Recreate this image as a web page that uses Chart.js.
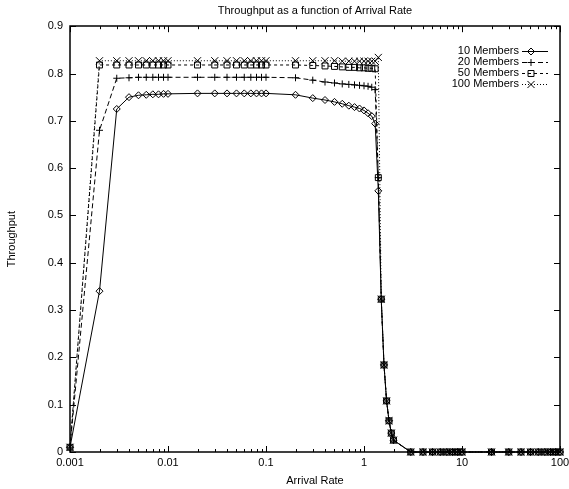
<!DOCTYPE html>
<html>
<head>
<meta charset="utf-8">
<title>Throughput as a function of Arrival Rate</title>
<script src="https://cdn.jsdelivr.net/npm/chart.js@4/dist/chart.umd.min.js"></script>
<style>
	html, body { margin:0; padding:0; background:#fff; }
	#chart { display:block; }
</style>
</head>
<body>
<canvas id="chart" width="569" height="489"></canvas>
<script>
// arrival rates sampled (same for every series)
const arrivalRate = [
	0.001, 0.002, 0.003, 0.004, 0.005, 0.006, 0.007, 0.008, 0.009,
	0.01, 0.02, 0.03, 0.04, 0.05, 0.06, 0.07, 0.08, 0.09,
	0.1, 0.2, 0.3, 0.4, 0.5, 0.6, 0.7, 0.8, 0.9,
	1.0, 1.1, 1.2, 1.3, 1.4, 1.5, 1.6, 1.7, 1.8, 1.9,
	2, 3, 4, 5, 6, 7, 8, 9,
	10, 20, 30, 40, 50, 60, 70, 80, 90,
	100
]

// tail after saturation, shared by all group sizes (1.5 .. 100)
const tail = [0.323, 0.184, 0.108, 0.066, 0.040, 0.025, 0, 0, 0, 0, 0, 0, 0, 0, 0, 0, 0, 0, 0, 0, 0, 0, 0]

const members10 = [
	0.01, 0.34, 0.725, 0.750, 0.754, 0.755, 0.756, 0.756, 0.757,
	0.757, 0.758, 0.758, 0.758, 0.758, 0.758, 0.758, 0.758, 0.758,
	0.758, 0.755, 0.748, 0.744, 0.740, 0.736, 0.732, 0.729, 0.726,
	0.722, 0.716, 0.710, 0.694, 0.552
].concat(tail)

const members20 = [
	0.01, 0.68, 0.790, 0.791, 0.792, 0.792, 0.792, 0.792, 0.792,
	0.792, 0.792, 0.792, 0.792, 0.792, 0.792, 0.792, 0.792, 0.792,
	0.792, 0.791, 0.786, 0.782, 0.780, 0.778, 0.777, 0.776, 0.775,
	0.774, 0.773, 0.771, 0.766, 0.580
].concat(tail)

const members50 = [
	0.01, 0.818, 0.818, 0.818, 0.818, 0.818, 0.818, 0.818, 0.818,
	0.818, 0.818, 0.818, 0.818, 0.818, 0.818, 0.818, 0.818, 0.818,
	0.818, 0.818, 0.817, 0.816, 0.815, 0.814, 0.813, 0.813, 0.812,
	0.812, 0.811, 0.811, 0.810, 0.580
].concat(tail)

const members100 = [
	0.01, 0.827, 0.827, 0.827, 0.827, 0.827, 0.827, 0.827, 0.827,
	0.827, 0.827, 0.827, 0.827, 0.827, 0.827, 0.827, 0.827, 0.827,
	0.827, 0.827, 0.827, 0.827, 0.827, 0.826, 0.826, 0.826, 0.826,
	0.826, 0.826, 0.826, 0.826, 0.834
].concat(tail)

const seriesLabels = ['10 Members', '20 Members', '50 Members', '100 Members']
const seriesValues = [members10, members20, members50, members100]

const xTickValues = [0.001, 0.01, 0.1, 1, 10, 100]
const yTickValues = [0, 0.1, 0.2, 0.3, 0.4, 0.5, 0.6, 0.7, 0.8, 0.9]

const FONT = '"Liberation Sans", Arial, Helvetica, sans-serif'

const styles = [
	{ dash:[], point:'rectRot', r:3.5 },
	{ dash:[5, 3], point:'cross', r:3.5 },
	{ dash:[3, 3], point:'rect', r:4.2 },
	{ dash:[1, 2], point:'crossRot', r:5 }
]


// gnuplot-like key: text right aligned, line sample on the right
const keyPlugin = {
	id:'key',
	afterDatasetsDraw(chart){
		const ctx = chart.ctx
		ctx.save()
		chart.data.datasets.forEach((ds, i) => {
			const y = 51 + i*11
			ctx.font = '11px ' + FONT
			ctx.textAlign = 'right'
			ctx.textBaseline = 'middle'
			ctx.fillStyle = '#000'
			ctx.fillText(ds.label, 519, y)
			ctx.strokeStyle = '#000'
			ctx.lineWidth = 1
			ctx.setLineDash(ds.borderDash)
			ctx.beginPath()
			ctx.moveTo(522, y + 0.5)
			ctx.lineTo(548, y + 0.5)
			ctx.stroke()
			ctx.setLineDash([])
			ctx.fillStyle = 'rgba(0,0,0,0)'
			Chart.helpers.drawPoint(ctx, { pointStyle:ds.pointStyle, radius:ds.pointRadius, borderWidth:1, rotation:0 }, 531, y + 0.5)
		})
		ctx.restore()
	}
}

// border box and inward tick marks on all four sides
const framePlugin = {
	id:'frame',
	afterDraw(chart){
		const { ctx, chartArea, scales } = chart
		const { left, right, top, bottom } = chartArea
		ctx.save()
		ctx.strokeStyle = '#000'
		ctx.lineWidth = 1
		ctx.beginPath()
		for(const v of yTickValues){
			const py = Math.round(scales.y.getPixelForValue(v)) + 0.5
			ctx.moveTo(left, py); ctx.lineTo(left + 6, py)
			ctx.moveTo(right, py); ctx.lineTo(right - 6, py)
		}
		for(const d of xTickValues){
			for(let m = 1; m <= 9; m++){
				const v = d*m
				if(v > 100.0001) break
				const px = Math.round(scales.x.getPixelForValue(v)) + 0.5
				const len = m === 1 ? 6 : 3
				ctx.moveTo(px, bottom); ctx.lineTo(px, bottom - len)
				ctx.moveTo(px, top); ctx.lineTo(px, top + len)
			}
		}
		ctx.stroke()
		ctx.lineWidth = 1.5
		ctx.strokeRect(Math.round(left), Math.round(top), Math.round(right - left), Math.round(bottom - top))
		ctx.restore()
	}
}


const datasets = seriesValues.map((values, i) => ({
	label:seriesLabels[i],
	data:arrivalRate.map((x, j) => ({ x, y:values[j] })),
	borderColor:'#000',
	borderWidth:1,
	borderDash:styles[i].dash,
	backgroundColor:'rgba(0,0,0,0)',
	pointStyle:styles[i].point,
	pointRadius:styles[i].r,
	pointBorderWidth:1,
	pointBorderColor:'#000',
	pointBackgroundColor:'rgba(0,0,0,0)',
	tension:0,
	fill:false,
	clip:false
}))

new Chart(document.getElementById('chart'), {
	type:'line',
	data:{ datasets },
	options:{
		responsive:false,
		devicePixelRatio:1,
		animation:false,
		parsing:false,
		layout:{ padding:{ left:0, right:9, top:0, bottom:0 } },
		plugins:{
			legend:{ display:false },
			tooltip:{ enabled:false },
			title:{
				display:true,
				fullSize:false,
				text:'Throughput as a function of Arrival Rate',
				color:'#000',
				font:{ family:FONT, size:11, weight:'normal' },
				padding:{ top:4, bottom:9 }
			}
		},
		scales:{
			x:{
				type:'logarithmic',
				min:0.001,
				max:100,
				afterFit:s => { s.height = 37; s.paddingLeft = 0; s.paddingRight = 0 },
				afterBuildTicks:s => { s.ticks = xTickValues.map(value => ({ value, major:true })) },
				grid:{ display:false, drawTicks:false },
				border:{ display:false },
				ticks:{
					color:'#000',
					font:{ family:FONT, size:11 },
					padding:4,
					maxRotation:0,
					autoSkip:false,
					callback:v => String(v)
				},
				title:{
					display:true,
					text:'Arrival Rate',
					color:'#000',
					font:{ family:FONT, size:11 },
					padding:{ top:0, bottom:1 }
				}
			},
			y:{
				type:'linear',
				min:0,
				max:0.9,
				afterFit:s => { s.width = 70; s.paddingTop = 0; s.paddingBottom = 0 },
				afterBuildTicks:s => { s.ticks = yTickValues.map(value => ({ value })) },
				grid:{ display:false, drawTicks:false },
				border:{ display:false },
				ticks:{
					color:'#000',
					font:{ family:FONT, size:11 },
					padding:7,
					callback:v => v === 0 ? '0' : v.toFixed(1)
				},
				title:{
					display:true,
					text:'Throughput',
					color:'#000',
					font:{ family:FONT, size:11 },
					padding:{ top:5, bottom:0 }
				}
			}
		}
	},
	plugins:[keyPlugin, framePlugin]
})
</script>
</body>
</html>
